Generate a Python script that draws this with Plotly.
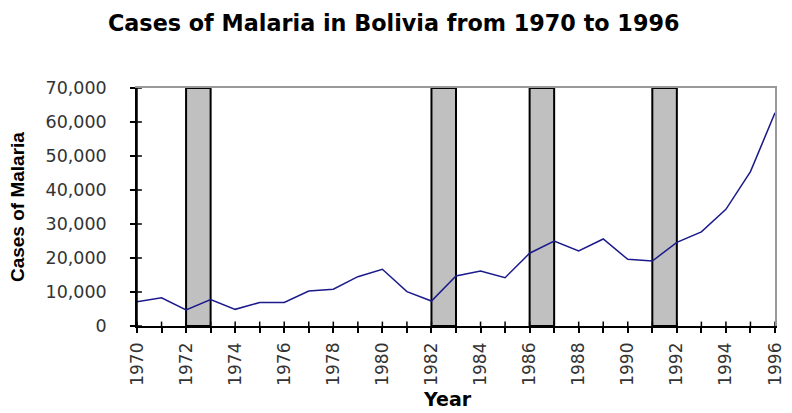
import plotly.graph_objects as go

years = list(range(1970, 1997))
cases = [7100, 8300, 4700, 7800, 4900, 6900, 6900, 10300, 10800, 14500,
         16700, 10100, 7350, 14700, 16200, 14200, 21400, 25000, 22100, 25600,
         19600, 19100, 24600, 27700, 34300, 45400, 62700]
shade_start = [1972, 1982, 1986, 1991]
shade_end = [1973, 1983, 1987, 1992]
y_ticks = [0, 10000, 20000, 30000, 40000, 50000, 60000, 70000]
x_ticks = list(range(1970, 1997, 2))

fig = go.Figure()
for s, e in zip(shade_start, shade_end):
    fig.add_shape(type="rect", xref="x", yref="y", x0=s, x1=e, y0=0, y1=70000,
                  fillcolor="#c0c0c0", line=dict(color="black", width=2),
                  layer="below")

fig.add_trace(go.Scatter(x=years, y=cases, mode="lines",
                         line=dict(color="#1a1a8c", width=1.5),
                         showlegend=False, hoverinfo="x+y"))

dv = "DejaVu Sans, Verdana, sans-serif"
ar = "Liberation Sans, Arial, sans-serif"
fig.update_layout(
    width=792, height=413,
    margin=dict(l=129, r=25, t=80, b=95),
    paper_bgcolor="white", plot_bgcolor="white",
    title=dict(text="<b>Cases of Malaria in Bolivia from 1970 to 1996</b>",
               x=0.487, xanchor="center", y=0.963, yanchor="middle",
               font=dict(family=dv, size=22.3, color="black")),
    xaxis=dict(range=[1970, 1996], tickvals=x_ticks, ticktext=[str(v) for v in x_ticks],
               tickangle=-90, ticks="outside", ticklen=5, tickwidth=1.5, tickcolor="black",
               minor=dict(ticks="outside", dtick=1, tick0=1970, ticklen=5, tickwidth=1.5, tickcolor="black"),
               showline=True, linecolor="black", linewidth=1.5, showgrid=False, zeroline=False,
               tickfont=dict(family=dv, size=17, color="#333"), ticklabelstandoff=3),
    yaxis=dict(range=[0, 70000], tickvals=y_ticks, tickformat=",d",
               ticks="outside", ticklen=5, tickwidth=1.5, tickcolor="black",
               showline=True, linecolor="black", linewidth=1.5, showgrid=False, zeroline=False,
               tickfont=dict(family=dv, size=17.5, color="#333"), ticklabelstandoff=20),
    xaxis2=dict(range=[1970, 1996], overlaying="x", side="top", showticklabels=False,
                showline=True, linecolor="#999", linewidth=1.5, showgrid=False, zeroline=False,
                ticks="", anchor="y"),
    yaxis2=dict(range=[0, 70000], overlaying="y", side="right", showticklabels=False,
                showline=True, linecolor="#999", linewidth=1.5, showgrid=False, zeroline=False,
                ticks="", anchor="x"),
    annotations=[
        dict(text="<b>Year</b>", xref="paper", yref="paper", x=0.486, y=-0.307,
             xanchor="center", yanchor="middle", showarrow=False,
             font=dict(family=dv, size=19, color="black")),
        dict(text="<b>Cases of Malaria</b>", xref="paper", yref="paper", x=-0.188, y=0.5,
             xanchor="center", yanchor="middle", showarrow=False, textangle=-90,
             font=dict(family=ar, size=19, color="black")),
    ],
)
fig.add_trace(go.Scatter(x=[None], y=[None], xaxis="x2", yaxis="y2", showlegend=False))
fig.add_shape(type="line", xref="paper", yref="paper", x0=0, x1=0, y0=0, y1=1,
              line=dict(color="black", width=1.5))
# inside ticks to mimic crossing ticks
for yv in y_ticks:
    fig.add_shape(type="line", xref="x", yref="y", x0=1970, x1=1970.2, y0=yv, y1=yv,
                  line=dict(color="black", width=1.5))
for xv in years:
    fig.add_shape(type="line", xref="x", yref="y", x0=xv, x1=xv, y0=0, y1=1300,
                  line=dict(color="black", width=1.5))

fig.write_html("out.html")
